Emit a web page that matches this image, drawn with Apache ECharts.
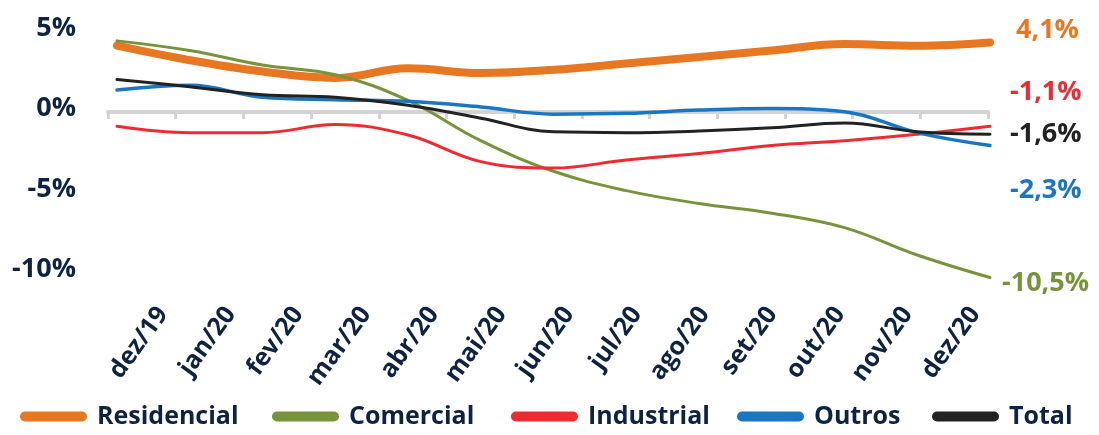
<!DOCTYPE html>
<html>
<head>
<meta charset="utf-8">
<script src="https://cdn.jsdelivr.net/npm/echarts@6/dist/echarts.min.js"></script>
<style>
  html, body { margin: 0; padding: 0; background: #ffffff; }
  #chart { width: 1099px; height: 435px; }
</style>
</head>
<body>
<div id="chart"></div>
<script>
// Monthly categories (Dec/2019 to Dec/2020)
const categories = ['dez/19', 'jan/20', 'fev/20', 'mar/20', 'abr/20', 'mai/20', 'jun/20',
                    'jul/20', 'ago/20', 'set/20', 'out/20', 'nov/20', 'dez/20'];

// Growth (%) by consumer class
const residencial = [3.9, 3.0, 2.3, 1.9, 2.5, 2.2, 2.4, 2.8, 3.2, 3.6, 4.0, 3.9, 4.1];
const comercial   = [4.2, 3.6, 2.7, 2.1, 0.5, -2.0, -3.9, -5.1, -5.9, -6.5, -7.4, -9.1, -10.5];
const industrial  = [-1.1, -1.5, -1.5, -1.0, -1.65, -3.3, -3.7, -3.2, -2.8, -2.3, -2.0, -1.6, -1.1];
const outros      = [1.15, 1.45, 0.7, 0.55, 0.45, 0.1, -0.35, -0.3, -0.1, 0.0, -0.2, -1.5, -2.3];
const total       = [1.8, 1.35, 0.85, 0.7, 0.2, -0.6, -1.45, -1.5, -1.4, -1.2, -0.9, -1.45, -1.6];

// Y axis tick labels
const yTicks = [-10, -5, 0, 5];

const FONT = "'Open Sans', sans-serif";
const NAVY = '#0e2341';

const seriesDefs = [
  { name: 'Residencial', data: residencial, color: '#e87722', width: 8, offset: [26, -12] },
  { name: 'Comercial',   data: comercial,   color: '#77933c', width: 3, offset: [12, 6] },
  { name: 'Industrial',  data: industrial,  color: '#ee2b30', width: 3, offset: [20, -34] },
  { name: 'Outros',      data: outros,      color: '#1a76c0', width: 3.5, offset: [20, 45] },
  { name: 'Total',       data: total,       color: '#222222', width: 3, offset: [20, 0] }
];

const legendLeft = [15, 267, 506, 732, 927];

const fmt = v => String(v).replace('.', ',') + '%';

const chart = echarts.init(document.getElementById('chart'), null, { renderer: 'canvas' });

const PLOT_TOP = 11.9, PLOT_H = 289.8;

chart.setOption({
  animation: false,
  backgroundColor: '#ffffff',
  grid: [
    { left: 117, right: 109, top: PLOT_TOP, height: PLOT_H },   // lines
    { left: 108, right: 111, top: 10, height: 102 },            // zero baseline with ticks
    { left: 129, right: 90, top: PLOT_TOP, height: PLOT_H }     // month labels
  ],
  xAxis: [
    { type: 'category', gridIndex: 0, data: categories, boundaryGap: false,
      axisLine: { show: false }, axisTick: { show: false }, axisLabel: { show: false },
      splitLine: { show: false } },
    { type: 'value', gridIndex: 1, min: 0, max: 13, interval: 1,
      axisLine: { show: true, onZero: false, lineStyle: { color: '#d3d3d3', width: 4 } },
      axisTick: { show: true, length: 7, lineStyle: { color: '#d3d3d3', width: 3 } },
      axisLabel: { show: false }, splitLine: { show: false } },
    { type: 'category', gridIndex: 2, data: categories, boundaryGap: true,
      axisLine: { show: false, onZero: false }, axisTick: { show: false },
      axisLabel: { show: true, rotate: 54, margin: 8, interval: 0,
                   color: NAVY, fontFamily: FONT, fontWeight: 'bold', fontSize: 25 },
      splitLine: { show: false } }
  ],
  yAxis: [
    { type: 'value', gridIndex: 0, min: -12, max: 6,
      axisLine: { show: false }, axisTick: { show: false }, splitLine: { show: false },
      axisLabel: { show: true, customValues: yTicks, margin: 41,
                   formatter: v => v + '%',
                   color: NAVY, fontFamily: FONT, fontWeight: 'bold', fontSize: 27 } },
    { type: 'value', gridIndex: 1, min: 0, max: 1, show: false },
    { type: 'value', gridIndex: 2, min: -12, max: 6, show: false }
  ],
  legend: seriesDefs.map((s, i) => ({
    data: [s.name],
    left: legendLeft[i],
    top: 399,
    itemWidth: 67,
    itemHeight: 10,
    icon: 'path://M5,0L62,0A5,5,0,0,1,62,10L5,10A5,5,0,0,1,5,0Z',
    selectedMode: false,
    textStyle: { color: NAVY, fontFamily: FONT, fontWeight: 'bold', fontSize: 25,
                 padding: [0, 0, 0, 5] }
  })),
  series: seriesDefs.map(s => ({
    name: s.name,
    type: 'line',
    xAxisIndex: 0,
    yAxisIndex: 0,
    data: s.data,
    smooth: 0.4,
    showSymbol: false,
    symbol: 'none',
    color: s.color,
    lineStyle: { color: s.color, width: s.width, cap: 'round' },
    itemStyle: { color: s.color },
    endLabel: {
      show: true,
      distance: 0,
      offset: s.offset,
      formatter: p => fmt(p.value),
      color: s.color,
      fontFamily: FONT,
      fontWeight: 'bold',
      fontSize: 27
    }
  }))
});
</script>
</body>
</html>
